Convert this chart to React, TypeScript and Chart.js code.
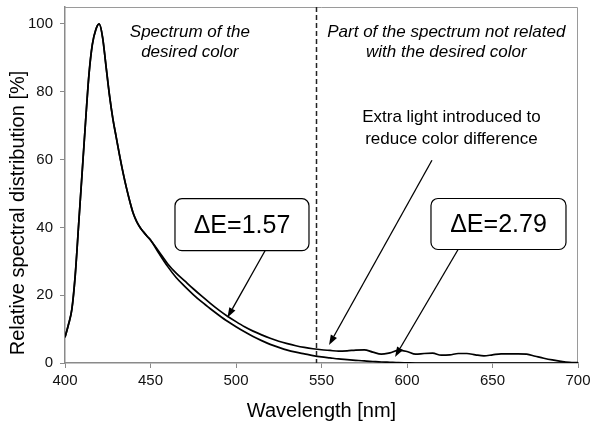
import React, { useEffect, useRef } from "react";
import { Chart, registerables } from "chart.js";

Chart.register(...registerables);

// Wavelengths [nm]
const wavelengths = [
  400, 402, 404, 406, 408, 410, 412, 414, 416, 418, 420, 422, 424, 426, 428, 430,
  432, 434, 436, 438, 440, 442, 444, 446, 448, 450,
  455, 460, 465, 470, 475, 480, 485, 490, 495, 500, 505, 510, 515, 520, 525, 530,
  535, 540, 545, 550, 555, 560, 565, 570, 575, 580, 585, 590, 595, 600, 605, 610,
  615, 620, 625, 630, 635, 640, 645, 650, 655, 660, 665, 670, 675, 680, 685, 690,
  695, 700,
];

// Spectrum of the desired color [%]
const desiredSpectrum = [
  7.6, 11.3, 15.8, 26, 41, 56, 71, 85, 94, 98.3, 100, 96, 87.5, 79, 72, 66.5,
  61, 56, 51.5, 47.5, 44, 41.6, 39.9, 38.6, 37.4, 36.3,
  32.3, 28.5, 25.2, 22.6, 20.2, 18.0, 16.0, 14.1, 12.3, 10.7, 9.2, 7.8, 6.6, 5.5, 4.6, 3.8,
  3.2, 2.7, 2.2, 1.8, 1.5, 1.2, 1.0, 0.8, 0.6, 0.45, 0.3, 0.2, 0.1, 0.05, 0, 0,
  0, 0, 0, 0, 0, 0, 0, 0, 0, 0, 0, 0, 0, 0, 0, 0,
  0, 0,
];

// Spectrum with extra light introduced [%]
const extraSpectrum = [
  7.6, 11.3, 15.8, 26, 41, 56, 71, 85, 94, 98.3, 100, 96, 87.5, 79, 72, 66.5,
  61, 56, 51.5, 47.5, 44, 41.6, 39.9, 38.6, 37.4, 36.3,
  32.8, 29.3, 26.5, 24.2, 21.9, 19.7, 17.6, 15.6, 13.8, 12.2, 10.7, 9.4, 8.3, 7.3, 6.4, 5.7,
  5.1, 4.6, 4.2, 3.9, 3.7, 3.5, 3.6, 3.8, 3.9, 3.2, 2.6, 3.0, 3.7, 3.4, 2.6, 2.8,
  2.9, 2.3, 2.4, 2.8, 2.8, 2.4, 2.1, 2.4, 2.7, 2.7, 2.7, 2.6, 2.0, 1.4, 0.9, 0.5,
  0.2, 0.1,
];

const xTicks = [400, 450, 500, 550, 600, 650, 700];
const yTicks = [0, 20, 40, 60, 80, 100];

const dividerNm = 547;
const deltaE1 = "\u0394E=1.57";
const deltaE2 = "\u0394E=2.79";
const leftNote = ["Spectrum of the", "desired color"];
const rightNote = ["Part of the spectrum not related", "with the desired color"];
const extraNote = ["Extra light introduced to", "reduce color difference"];
const xTitle = "Wavelength [nm]";
const yTitle = "Relative spectral distribution [%]";

const FONT = "'Liberation Sans', Arial, Helvetica, sans-serif";

function drawArrow(ctx: CanvasRenderingContext2D, x1: number, y1: number, x2: number, y2: number) {
  const ang = Math.atan2(y2 - y1, x2 - x1);
  const len = 10;
  const hw = 3.5;
  const bx = x2 - len * Math.cos(ang);
  const by = y2 - len * Math.sin(ang);
  ctx.beginPath();
  ctx.moveTo(x1, y1);
  ctx.lineTo(bx, by);
  ctx.stroke();
  ctx.beginPath();
  ctx.moveTo(x2, y2);
  ctx.lineTo(bx + hw * Math.sin(ang), by - hw * Math.cos(ang));
  ctx.lineTo(bx - hw * Math.sin(ang), by + hw * Math.cos(ang));
  ctx.closePath();
  ctx.fill();
}

const annotations = {
  id: "annotations",
  beforeDatasetsDraw(chart: any) {
    const { ctx, chartArea: a } = chart;
    ctx.save();
    ctx.strokeStyle = "#9a9a9a";
    ctx.lineWidth = 1;
    ctx.beginPath();
    ctx.moveTo(a.left, a.top + 0.5);
    ctx.lineTo(a.right - 0.5, a.top + 0.5);
    ctx.lineTo(a.right - 0.5, a.bottom);
    ctx.stroke();
    ctx.restore();
  },
  afterDatasetsDraw(chart: any) {
    const { ctx, chartArea: a, scales } = chart;
    const xs = scales.x;
    const ys = scales.y;
    const px = (v: number) => xs.getPixelForValue(v);
    const py = (v: number) => ys.getPixelForValue(v);
    ctx.save();

    // divider
    ctx.strokeStyle = "#222";
    ctx.lineWidth = 1.5;
    ctx.setLineDash([5, 3]);
    ctx.beginPath();
    const xd = Math.round(px(dividerNm)) + 0.5;
    ctx.moveTo(xd, a.top);
    ctx.lineTo(xd, a.bottom);
    ctx.stroke();
    ctx.setLineDash([]);

    // italic notes
    ctx.fillStyle = "#000";
    ctx.textAlign = "center";
    ctx.textBaseline = "middle";
    ctx.font = `italic 17px ${FONT}`;
    leftNote.forEach((t, i) => ctx.fillText(t, px(473), py(97.6) + i * 20));
    rightNote.forEach((t, i) => ctx.fillText(t, px(623), py(97.6) + i * 20));

    ctx.font = `17px ${FONT}`;
    extraNote.forEach((t, i) => ctx.fillText(t, px(626), py(72.5) + i * 22));

    // arrows
    ctx.strokeStyle = "#000";
    ctx.fillStyle = "#000";
    ctx.lineWidth = 1.3;
    drawArrow(ctx, px(517), py(33.1), px(495), py(13.4));
    drawArrow(ctx, px(629.8), py(33.4), px(593), py(1.8));
    drawArrow(ctx, px(614.6), py(59.8), px(554.4), py(5.3));

    // boxes
    const box = (cxv: number, cyv: number, w: number, h: number, label: string) => {
      const cx = px(cxv);
      const cy = py(cyv);
      ctx.beginPath();
      (ctx as any).roundRect(cx - w / 2, cy - h / 2, w, h, 7);
      ctx.fillStyle = "#fff";
      ctx.fill();
      ctx.strokeStyle = "#000";
      ctx.lineWidth = 1.2;
      ctx.stroke();
      ctx.fillStyle = "#000";
      ctx.font = `25px ${FONT}`;
      ctx.textAlign = "center";
      ctx.textBaseline = "middle";
      ctx.fillText(label, cx, cy + 1);
    };
    box(503.5, 40.8, 134, 52, deltaE1);
    box(653.5, 41.0, 135, 51, deltaE2);

    // axis titles
    ctx.fillStyle = "#000";
    ctx.font = `20px ${FONT}`;
    ctx.textAlign = "center";
    ctx.textBaseline = "middle";
    ctx.fillText(xTitle, (a.left + a.right) / 2, 411);
    ctx.translate(18, 213);
    ctx.rotate(-Math.PI / 2);
    ctx.fillText(yTitle, 0, 0);
    ctx.restore();
  },
};

export default function App() {
  const ref = useRef<HTMLCanvasElement | null>(null);
  useEffect(() => {
    document.body.style.margin = "0";
    const canvas = ref.current;
    if (!canvas) return;
    const chart = new Chart(canvas, {
      type: "line",
      data: {
        datasets: [
          {
            label: "With extra light",
            data: wavelengths.map((w, i) => ({ x: w, y: extraSpectrum[i] })),
            borderColor: "#000",
            borderWidth: 1.7,
            pointRadius: 0,
            cubicInterpolationMode: "monotone",
            fill: false,
          },
          {
            label: "Desired color",
            data: wavelengths.map((w, i) => ({ x: w, y: desiredSpectrum[i] })),
            borderColor: "#000",
            borderWidth: 1.7,
            pointRadius: 0,
            cubicInterpolationMode: "monotone",
            fill: false,
          },
        ],
      },
      options: {
        responsive: false,
        animation: false,
        layout: { padding: { top: 7, right: 14, left: 0, bottom: 0 } },
        plugins: { legend: { display: false }, tooltip: { enabled: false } },
        scales: {
          x: {
            type: "linear",
            min: 400,
            max: 700,
            afterFit: (s: any) => {
              s.height = 62;
              s.paddingLeft = 0;
              s.paddingRight = 0;
            },
            afterBuildTicks: (s: any) => {
              s.ticks = xTicks.map((v) => ({ value: v }));
            },
            grid: { drawOnChartArea: false, drawTicks: true, tickLength: 5, color: "#8a8a8a" },
            border: { display: true, color: "#8a8a8a", width: 1.5 },
            ticks: { color: "#111", font: { family: FONT, size: 15 }, padding: 4, maxRotation: 0 },
          },
          y: {
            type: "linear",
            min: 0,
            max: 105,
            afterFit: (s: any) => {
              s.width = 65;
              s.paddingTop = 0;
              s.paddingBottom = 0;
            },
            afterBuildTicks: (s: any) => {
              s.ticks = yTicks.map((v) => ({ value: v }));
            },
            grid: { drawOnChartArea: false, drawTicks: true, tickLength: 5, color: "#8a8a8a" },
            border: { display: true, color: "#8a8a8a", width: 1.5 },
            ticks: { color: "#111", font: { family: FONT, size: 15 }, padding: 7 },
          },
        },
      },
      plugins: [annotations],
    });
    return () => chart.destroy();
  }, []);
  return <canvas ref={ref} width={592} height={425} style={{ display: "block" }} />;
}
